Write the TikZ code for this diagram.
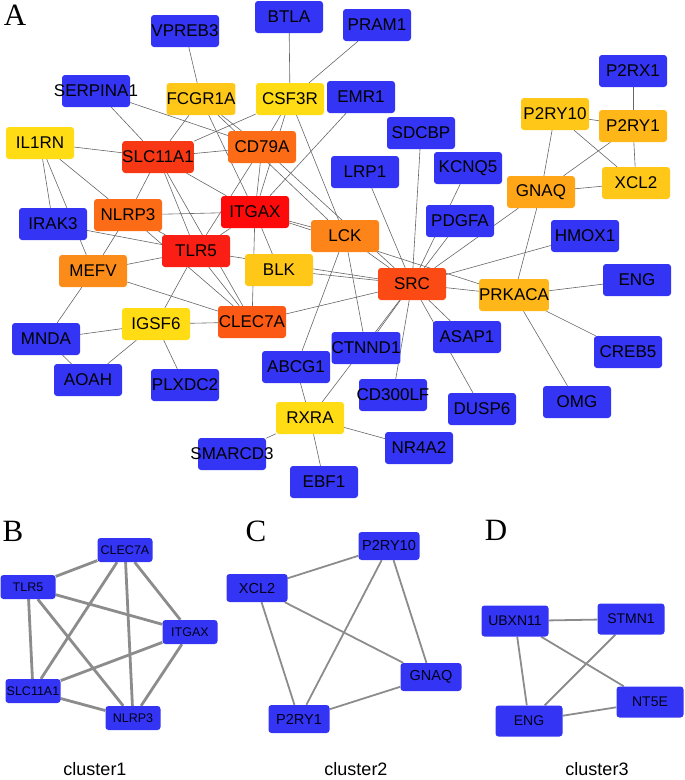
\documentclass[tikz,border=0pt]{standalone}
\usepackage{fontspec}
\setmainfont{Liberation Sans}
\newfontfamily\panelfont{Liberation Serif}
\usepackage{xcolor}
\definecolor{geneBlue}{HTML}{3434F5}
\definecolor{heatRed}{HTML}{FF0A0A}
\definecolor{heatTlr}{HTML}{FA1E14}
\definecolor{heatSlc}{HTML}{F83814}
\definecolor{heatSrc}{HTML}{FC4A14}
\definecolor{heatClec}{HTML}{FC5A14}
\definecolor{heatOrange}{HTML}{FC6C16}
\definecolor{heatLck}{HTML}{FC8418}
\definecolor{heatMefv}{HTML}{FC8C1A}
\definecolor{heatGnaq}{HTML}{FFA618}
\definecolor{heatAmber}{HTML}{FFB618}
\definecolor{heatGold}{HTML}{FFC818}
\definecolor{heatYellow}{HTML}{FFDC14}
\definecolor{edgeGray}{HTML}{8C8C8C}
\usetikzlibrary{backgrounds}
\newcommand\widelabel[1]{\makebox[0pt]{#1}}
\tikzset{
  gene/.style={
    rounded corners=3pt,
    minimum width=68pt,
    minimum height=32pt,
    inner sep=0pt,
    text=black,
    font=\fontsize{17}{17}\selectfont
  },
  gblue/.style={gene, fill=geneBlue},
  heat/.style={gene, fill=#1},
  ppiline/.style={
    draw=black!60,
    line width=0.6pt
  },
  cgene/.style={
    rounded corners=3pt,
    fill=geneBlue,
    inner sep=0pt,
    text=black!90!blue,
    minimum width=#1
  },
  clusline/.style={
    draw=edgeGray,
    line width=#1
  },
  panelmark/.style={font=\panelfont\fontsize{31}{31}\selectfont, inner sep=0pt},
  cluslabel/.style={font=\fontsize{18}{18}\selectfont, inner sep=0pt}
}

\begin{document}
\begin{tikzpicture}[x=1pt,y=-1pt]
  \useasboundingbox (0,0) rectangle (685,780);
  % panel A
  \node[panelmark] (markA) at (15,15) {A};
  \node[gblue] (vpreb3) at (185,31) {VPREB3};
  \node[gblue] (btla) at (289,17) {BTLA};
  \node[gblue] (pram1) at (377,25) {PRAM1};
  \node[gblue] (serpina1) at (96,91) {\widelabel{SERPINA1}};
  \node[heat=heatGold] (fcgr1a) at (201,99) {FCGR1A};
  \node[heat=heatYellow] (csf3r) at (290,99) {CSF3R};
  \node[gblue] (emr1) at (361,97) {EMR1};
  \node[heat=heatYellow] (il1rn) at (40,143) {IL1RN};
  \node[heat=heatSlc] (slc11a1) at (158,157) {SLC11A1};
  \node[heat=heatOrange] (cd79a) at (262,147) {CD79A};
  \node[gblue] (sdcbp) at (421,133) {SDCBP};
  \node[gblue] (lrp1) at (365,172) {LRP1};
  \node[gblue] (kcnq5) at (468,168) {KCNQ5};
  \node[gblue] (p2rx1) at (633,71) {P2RX1};
  \node[heat=heatGold] (p2ry10) at (555,114) {P2RY10};
  \node[heat=heatAmber] (p2ry1) at (633,126) {P2RY1};
  \node[heat=heatGnaq] (gnaq) at (541,192) {GNAQ};
  \node[heat=heatGold] (xcl2) at (636,183) {XCL2};
  \node[gblue] (pdgfa) at (460,221) {PDGFA};
  \node[gblue] (hmox1) at (585,236) {HMOX1};
  \node[heat=heatOrange] (nlrp3) at (128,215) {NLRP3};
  \node[heat=heatRed] (itgax) at (255,212) {ITGAX};
  \node[gblue] (irak3) at (53,224) {IRAK3};
  \node[heat=heatLck] (lck) at (345,236) {LCK};
  \node[heat=heatTlr] (tlr5) at (196,251) {TLR5};
  \node[heat=heatMefv] (mefv) at (93,271) {MEFV};
  \node[heat=heatGold] (blk) at (279,270) {BLK};
  \node[heat=heatSrc] (src) at (412,284) {SRC};
  \node[heat=heatAmber] (prkaca) at (514,295) {PRKACA};
  \node[gblue] (engA) at (637,280) {ENG};
  \node[heat=heatClec] (clec7a) at (252,322) {CLEC7A};
  \node[heat=heatYellow] (igsf6) at (156,324) {IGSF6};
  \node[gblue] (mnda) at (46,339) {MNDA};
  \node[gblue] (aoah) at (88,380) {AOAH};
  \node[gblue] (plxdc2) at (185,385) {PLXDC2};
  \node[gblue] (asap1) at (467,337) {ASAP1};
  \node[gblue] (ctnnd1) at (366,348) {CTNND1};
  \node[gblue] (creb5) at (628,352) {CREB5};
  \node[gblue] (abcg1) at (296,367) {ABCG1};
  \node[gblue] (cd300lf) at (393,395) {\widelabel{CD300LF}};
  \node[gblue] (dusp6) at (482,409) {DUSP6};
  \node[gblue] (omg) at (577,402) {OMG};
  \node[heat=heatYellow] (rxra) at (310,418) {RXRA};
  \node[gblue] (nr4a2) at (419,448) {NR4A2};
  \node[gblue] (smarcd3) at (232,454) {\widelabel{SMARCD3}};
  \node[gblue] (ebf1) at (324,482) {EBF1};
  \begin{scope}[on background layer]
    \foreach \a/\b in {vpreb3/fcgr1a,btla/csf3r,pram1/csf3r,serpina1/slc11a1,serpina1/cd79a,
      fcgr1a/slc11a1,fcgr1a/itgax,fcgr1a/cd79a,fcgr1a/lck,csf3r/slc11a1,csf3r/cd79a,csf3r/itgax,
      csf3r/lck,emr1/itgax,il1rn/slc11a1,il1rn/irak3,il1rn/mefv,il1rn/nlrp3,slc11a1/cd79a,
      slc11a1/itgax,slc11a1/nlrp3,slc11a1/tlr5,slc11a1/clec7a,cd79a/itgax,cd79a/tlr5,cd79a/src,
      nlrp3/itgax,nlrp3/tlr5,nlrp3/mefv,nlrp3/clec7a,irak3/tlr5,itgax/tlr5,itgax/blk,itgax/clec7a,
      itgax/lck,itgax/prkaca,mefv/tlr5,mefv/clec7a,mefv/mnda,tlr5/clec7a,tlr5/igsf6,tlr5/src,
      blk/src,clec7a/src,clec7a/igsf6,igsf6/mnda,igsf6/aoah,igsf6/plxdc2,mnda/aoah,lck/src,
      lck/ctnnd1,lck/abcg1,lrp1/src,sdcbp/src,kcnq5/src,pdgfa/src,gnaq/src,hmox1/src,src/prkaca,
      src/asap1,src/dusp6,src/cd300lf,src/ctnnd1,src/rxra,prkaca/engA,prkaca/creb5,prkaca/omg,
      prkaca/gnaq,p2rx1/p2ry1,p2ry10/p2ry1,p2ry10/xcl2,p2ry10/gnaq,p2ry1/gnaq,p2ry1/xcl2,gnaq/xcl2,
      rxra/abcg1,rxra/smarcd3,rxra/ebf1,rxra/nr4a2}
      \draw[ppiline] (\a) -- (\b);
  \end{scope}

  % panel B, cluster1
  \node[panelmark] (markB) at (13,531) {B};
  \begin{scope}[every node/.append style={cgene=55pt, minimum height=24pt, font=\fontsize{12.5}{12.5}\selectfont}]
    \node (bclec) at (125,550) {CLEC7A};
    \node (btlr) at (28,587) {TLR5};
    \node (bitgax) at (190,632) {ITGAX};
    \node (bslc) at (33,691) {SLC11A1};
    \node (bnlrp) at (133,718) {NLRP3};
  \end{scope}
  \begin{scope}[on background layer]
    \foreach \a/\b in {btlr/bclec,btlr/bitgax,btlr/bslc,btlr/bnlrp,bclec/bslc,
      bclec/bnlrp,bclec/bitgax,bitgax/bslc,bitgax/bnlrp,bslc/bnlrp}
      \draw[clusline=2.8pt] (\a) -- (\b);
  \end{scope}
  \node[cluslabel] (clus1) at (95,769) {cluster1};

  % panel C, cluster2
  \node[panelmark] (markC) at (256,531) {C};
  \begin{scope}[every node/.append style={cgene=61pt, minimum height=28pt, font=\fontsize{14.5}{14.5}\selectfont}]
    \node (cp2ry10) at (389,546) {P2RY10};
    \node (cxcl2) at (257,588) {XCL2};
    \node (cgnaq) at (431,677) {GNAQ};
    \node (cp2ry1) at (299,719) {P2RY1};
  \end{scope}
  \begin{scope}[on background layer]
    \foreach \a/\b in {cxcl2/cp2ry10,cxcl2/cgnaq,cxcl2/cp2ry1,cp2ry10/cp2ry1,cp2ry10/cgnaq,cgnaq/cp2ry1}
      \draw[clusline=1.8pt] (\a) -- (\b);
  \end{scope}
  \node[cluslabel] (clus2) at (356,769) {cluster2};

  % panel D, cluster3
  \node[panelmark] (markD) at (496,530) {D};
  \begin{scope}[every node/.append style={cgene=67pt, minimum height=31pt, font=\fontsize{14}{14}\selectfont}]
    \node (dubxn) at (515,621) {UBXN11};
    \node (dstmn) at (631,619) {STMN1};
    \node (dnt5e) at (650,702) {NT5E};
    \node (deng) at (529,721) {ENG};
  \end{scope}
  \begin{scope}[on background layer]
    \foreach \a/\b in {dubxn/dstmn,dubxn/dnt5e,dubxn/deng,dstmn/deng,deng/dnt5e}
      \draw[clusline=1.8pt] (\a) -- (\b);
  \end{scope}
  \node[cluslabel] (clus3) at (597,769) {cluster3};
\end{tikzpicture}
\end{document}
